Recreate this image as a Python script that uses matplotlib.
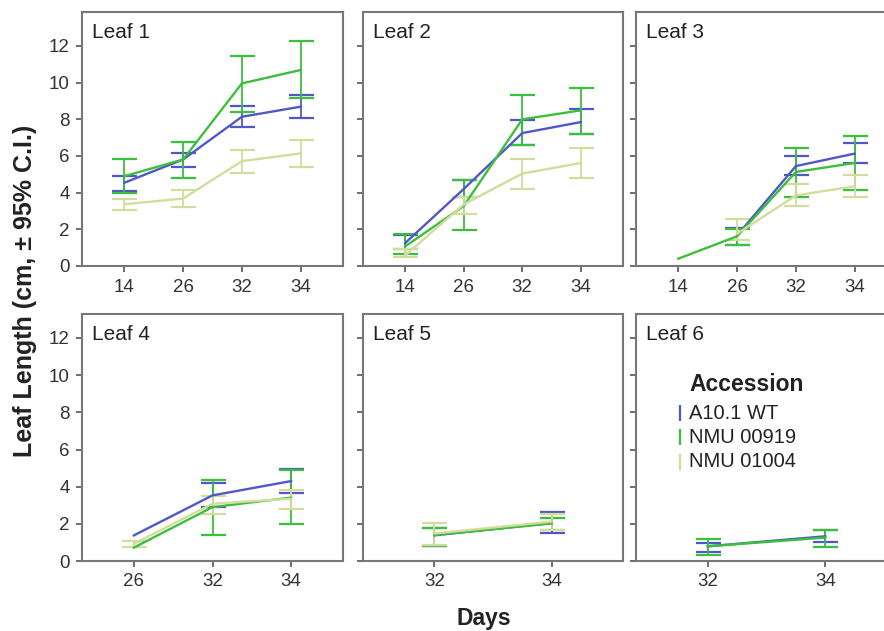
import numpy as np
import matplotlib.pyplot as plt

plt.rcParams['font.family'] = ['Liberation Sans', 'DejaVu Sans']

nan = np.nan
accessions = ['A10.1 WT', 'NMU 00919', 'NMU 01004']
colors = ['#5058c8', '#3cbf3c', '#d3dc9c']

# rows = accessions (A10.1 WT, NMU 00919, NMU 01004), columns = days
days_early = ['14', '26', '32', '34']
days_l4 = ['26', '32', '34']
days_late = ['32', '34']

leaf1_mean = [[4.54, 5.81, 8.14, 8.69], [4.90, 5.81, 9.96, 10.69], [3.37, 3.68, 5.72, 6.14]]
leaf1_lo = [[4.08, 5.41, 7.56, 8.09], [3.99, 4.81, 8.42, 9.14], [3.04, 3.22, 5.05, 5.41]]
leaf1_hi = [[4.90, 6.19, 8.72, 9.33], [5.85, 6.74, 11.48, 12.26], [3.64, 4.13, 6.32, 6.87]]

leaf2_mean = [[1.25, 4.20, 7.25, 7.85], [1.07, 3.27, 8.00, 8.49], [0.58, 3.36, 5.04, 5.62]]
leaf2_lo = [[0.95, 3.76, 6.58, 7.22], [0.64, 1.98, 6.58, 7.22], [0.49, 2.82, 4.18, 4.82]]
leaf2_hi = [[1.67, 4.67, 7.95, 8.55], [1.73, 4.71, 9.35, 9.71], [0.95, 3.76, 5.82, 6.45]]

leaf3_mean = [[nan, 1.67, 5.45, 6.13], [0.40, 1.62, 5.13, 5.62], [nan, 1.76, 3.85, 4.35]]
leaf3_lo = [[nan, 1.16, 4.95, 5.62], [nan, 1.16, 3.76, 4.16], [nan, 1.40, 3.27, 3.76]]
leaf3_hi = [[nan, 2.07, 5.98, 6.71], [nan, 2.04, 6.45, 7.07], [nan, 2.58, 4.45, 4.98]]

leaf4_mean = [[1.38, 3.53, 4.30], [0.72, 2.90, 3.41], [0.93, 3.08, 3.35]]
leaf4_lo = [[nan, 2.90, 3.68], [nan, 1.42, 2.00], [0.75, 2.55, 2.82]]
leaf4_hi = [[nan, 4.20, 4.97], [nan, 4.38, 4.91], [1.08, 3.50, 3.84]]

leaf5_mean = [[1.38, 2.05], [1.40, 2.02], [1.48, 2.12]]
leaf5_lo = [[0.79, 1.53], [0.79, 1.69], [0.85, 1.66]]
leaf5_hi = [[1.75, 2.65], [1.75, 2.32], [2.05, 2.52]]

leaf6_mean = [[0.79, 1.33], [0.79, 1.26], [nan, nan]]
leaf6_lo = [[0.49, 1.03], [0.31, 0.76], [nan, nan]]
leaf6_hi = [[0.99, 1.66], [1.20, 1.66], [nan, nan]]

panels = [
    ('Leaf 1', days_early, leaf1_mean, leaf1_lo, leaf1_hi),
    ('Leaf 2', days_early, leaf2_mean, leaf2_lo, leaf2_hi),
    ('Leaf 3', days_early, leaf3_mean, leaf3_lo, leaf3_hi),
    ('Leaf 4', days_l4, leaf4_mean, leaf4_lo, leaf4_hi),
    ('Leaf 5', days_late, leaf5_mean, leaf5_lo, leaf5_hi),
    ('Leaf 6', days_late, leaf6_mean, leaf6_lo, leaf6_hi),
]

W, H = 884, 631
fig = plt.figure(figsize=(W / 100, H / 100), dpi=100)

# axes boxes in pixels: left, top, right, bottom
col_x = [(82, 343), (363, 623), (636, 897)]
row_y = [(12, 266), (314, 561)]
xmargin = {4: 0.72, 3: 0.66, 2: 0.61}

axes = []
for i, (name, days, mean, lo, hi) in enumerate(panels):
    r, c = divmod(i, 3)
    x0, x1 = col_x[c]
    y0, y1 = row_y[r]
    ax = fig.add_axes([x0 / W, 1 - y1 / H, (x1 - x0) / W, (y1 - y0) / H])
    axes.append(ax)
    n = len(days)
    x = np.arange(n)
    for k in range(3):
        m = np.array(mean[k], dtype=float)
        l = np.array(lo[k], dtype=float)
        h = np.array(hi[k], dtype=float)
        ax.plot(x, m, color=colors[k], lw=1.7, zorder=3)
        ok = ~np.isnan(l)
        ax.errorbar(x[ok], m[ok], yerr=[m[ok] - l[ok], h[ok] - m[ok]],
                    fmt='none', ecolor=colors[k], elinewidth=1.3,
                    capsize=9, capthick=1.6, zorder=2)
    px_per_unit = 220 / 12 if r == 0 else 223 / 12
    ax.set_ylim(0, (y1 - y0) / px_per_unit)
    m_ = xmargin[n]
    ax.set_xlim(-m_, n - 1 + m_)
    ax.set_xticks(x)
    ax.set_xticklabels(days)
    ax.set_yticks(range(0, 13, 2))
    if c != 0:
        ax.set_yticklabels([])
    ax.tick_params(direction='out', length=4, width=1.2, colors='#555555',
                   labelcolor='#333333', labelsize=13.5, pad=5)
    for s in ax.spines.values():
        s.set_color('#777777')
        s.set_linewidth(1.5)
    ax.text(10 / (x1 - x0), 0.955, name, transform=ax.transAxes,
            ha='left', va='top', fontsize=15, color='#222222')

# legend drawn inside Leaf 6 panel
ax6 = axes[5]
ax6.text(0.203, 0.713, 'Accession', transform=ax6.transAxes, ha='left',
         va='center', fontsize=16.5, fontweight='bold', color='#222222')
for k, (y, lab) in enumerate(zip([0.599, 0.502, 0.401], accessions)):
    ax6.plot([0.169], [y], marker='|', markersize=12, mew=1.6,
             color=colors[k], transform=ax6.transAxes, clip_on=False)
    ax6.text(0.203, y, lab, transform=ax6.transAxes, ha='left', va='center',
             fontsize=14.5, color='#222222')

fig.text(25 / W, 1 - 291 / H, 'Leaf Length (cm, \u00b1 95% C.I.)', rotation=90,
         ha='center', va='center', fontsize=18, fontweight='bold', color='#222222')
fig.text(484 / W, 1 - 619 / H, 'Days', ha='center', va='center',
         fontsize=16.5, fontweight='bold', color='#222222')

fig.savefig('out.png', dpi=100)
